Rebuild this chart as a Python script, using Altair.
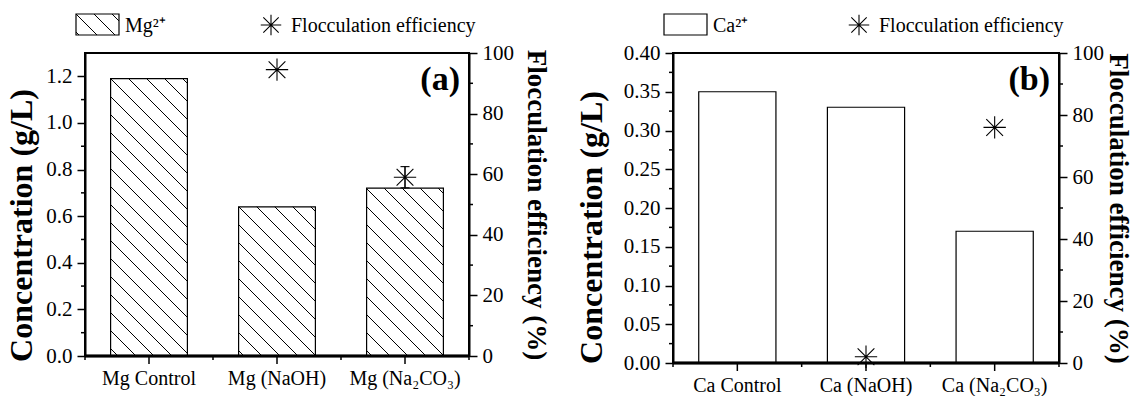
import math
import altair as alt
import pandas as pd

FONT = "Liberation Serif"

# ---------------- data: panel (a) ----------------
mg_categories = ["Mg Control", "Mg (NaOH)", "Mg (Na₂CO₃)"]
mg_concentration = [1.19, 0.64, 0.72]
mg_efficiency = [None, 94.5, 59.0]
mg_efficiency_err = [None, None, 3.5]
mg_ion_label = "Mg²⁺"
mg_conc_major = [0.0, 0.2, 0.4, 0.6, 0.8, 1.0, 1.2]
mg_conc_minor = [0.1, 0.3, 0.5, 0.7, 0.9, 1.1]

# ---------------- data: panel (b) ----------------
ca_categories = ["Ca Control", "Ca (NaOH)", "Ca (Na₂CO₃)"]
ca_concentration = [0.35, 0.33, 0.17]
ca_efficiency = [None, 2.0, 76.0]
ca_efficiency_err = [None, None, None]
ca_ion_label = "Ca²⁺"
ca_conc_major = [0.0, 0.05, 0.10, 0.15, 0.20, 0.25, 0.30, 0.35, 0.40]
ca_conc_minor = [0.025, 0.075, 0.125, 0.175, 0.225, 0.275, 0.325, 0.375]

eff_major = [0, 20, 40, 60, 80, 100]
eff_minor = [10, 30, 50, 70, 90]
eff_label = "Flocculation efficiency"
conc_title = "Concentration (g/L)"
eff_title = "Flocculation efficiency (%)"

STAR = "M-1,0L1,0M0,-1L0,1M-0.75,-0.75L0.75,0.75M-0.75,0.75L0.75,-0.75"
CAP = "M-1,0L1,0"
TICK_W = 1.5
LABEL_SIZE = 21


def hatch(w, h, spacing=18.0, lw=1.0):
    """Diagonal (\\\\) hatch as a hard-stop linear gradient, 45 deg in pixel space."""
    span = w + h
    k = span / (w * w + h * h)
    stops = [alt.GradientStop(offset=0, color="white")]
    n0 = math.ceil((-h - lw) / spacing)
    n1 = math.floor((w + lw) / spacing)
    for n in range(n0, n1 + 1):
        c = n * spacing
        a = min(max((c - lw / 2 + h) / span, 0), 1)
        b = min(max((c + lw / 2 + h) / span, 0), 1)
        stops += [alt.GradientStop(offset=a, color="white"),
                  alt.GradientStop(offset=a, color="black"),
                  alt.GradientStop(offset=b, color="black"),
                  alt.GradientStop(offset=b, color="white")]
    stops.append(alt.GradientStop(offset=1, color="white"))
    return alt.LinearGradient(gradient="linear", stops=stops,
                              x1=0, y1=1, x2=k * w, y2=1 - k * h)


def panel(cats, conc, eff, err, ion, tag, W, H, ymax, yfmt,
          conc_major, conc_minor, hatched, title_y, lpad, rpad):
    n = len(cats)
    df = pd.DataFrame({"cat": cats, "pos": list(range(n)), "conc": conc,
                       "eff": eff, "err": err})
    xscale = alt.Scale(domain=[-0.5, n - 0.5], nice=False, zero=False)
    cscale = alt.Scale(domain=[0, ymax], nice=False, zero=False)
    escale = alt.Scale(domain=[0, 100], nice=False, zero=False)

    caxis = alt.Axis(orient="left", values=conc_major, format=yfmt, tickSize=8,
                     title=conc_title, titleFontSize=32, titleY=title_y,
                     labelOverlap=False, labelPadding=5, titlePadding=lpad)
    eaxis = alt.Axis(orient="right", values=eff_major, tickSize=8,
                     title=eff_title, labelOverlap=False, labelPadding=5, titlePadding=rpad)

    base = alt.Chart(df).transform_calculate(
        x0="datum.pos - 0.3", x1="datum.pos + 0.3", zero="0")

    layers = []
    for i in range(n):
        fill = hatch(0.6 * W / n, conc[i] / ymax * H) if hatched else "white"
        layers.append(
            base.transform_filter(f"datum.pos == {i}")
            .mark_rect(fill=fill, stroke="black", strokeWidth=1.2)
            .encode(x=alt.X("x0:Q", scale=xscale, axis=None),
                    x2="x1:Q",
                    y=alt.Y("conc:Q", scale=cscale, axis=caxis if i == 0 else None),
                    y2="zero:Q")
        )
    # category ticks + labels along the bottom (through the x scale)
    layers.append(base.mark_rule(color="black", strokeWidth=TICK_W).encode(
        x=alt.X("pos:Q", scale=xscale, axis=None), y=alt.value(H), y2=alt.value(H + 8)))
    layers.append(base.mark_text(font=FONT, fontSize=20, color="black",
                                 align="center", baseline="alphabetic").encode(
        x=alt.X("pos:Q", scale=xscale, axis=None), y=alt.value(H + 29), text="cat:N"))
    # minor ticks
    xminor = pd.DataFrame({"v": [i - 0.5 for i in range(n + 1)]})
    layers.append(alt.Chart(xminor).mark_rule(color="black", strokeWidth=TICK_W).encode(
        x=alt.X("v:Q", scale=xscale, axis=None), y=alt.value(H), y2=alt.value(H + 4)))
    cminor = pd.DataFrame({"v": conc_minor})
    layers.append(alt.Chart(cminor).mark_rule(color="black", strokeWidth=TICK_W).encode(
        y=alt.Y("v:Q", scale=cscale, axis=None), x=alt.value(-4), x2=alt.value(0)))
    # heavier bottom axis line
    layers.append(base.mark_rule(color="black", strokeWidth=2.5).encode(
        x=alt.value(0), x2=alt.value(W), y=alt.value(H)))

    eff_base = base.transform_filter("isValid(datum.eff)")
    layers.append(eff_base.mark_point(shape=STAR, size=500, stroke="black", strokeWidth=1.1,
                                      opacity=1, filled=False).encode(
        x=alt.X("pos:Q", scale=xscale, axis=None),
        y=alt.Y("eff:Q", scale=escale, axis=eaxis)))
    err_base = base.transform_filter("isValid(datum.err) && datum.err > 0").transform_calculate(
        lo="datum.eff - datum.err", hi="datum.eff + datum.err")
    layers.append(err_base.mark_rule(color="black", strokeWidth=1.1).encode(
        x=alt.X("pos:Q", scale=xscale, axis=None),
        y=alt.Y("lo:Q", scale=escale, axis=None), y2="hi:Q"))
    for fld in ("lo", "hi"):
        layers.append(err_base.mark_point(shape=CAP, size=81, stroke="black", strokeWidth=1.1,
                                          opacity=1, filled=False).encode(
            x=alt.X("pos:Q", scale=xscale, axis=None),
            y=alt.Y(f"{fld}:Q", scale=escale, axis=None)))
    eminor = pd.DataFrame({"v": eff_minor})
    layers.append(alt.Chart(eminor).mark_rule(color="black", strokeWidth=TICK_W).encode(
        y=alt.Y("v:Q", scale=escale, axis=None), x=alt.value(W), x2=alt.value(W + 4)))

    leg = pd.DataFrame({"ion": [ion], "eff_label": [eff_label], "tag": [tag]})
    layers.append(alt.Chart(leg).mark_rect(fill=hatch(43, 21) if hatched else "white",
                                           stroke="black", strokeWidth=1.2).encode(
        x=alt.value(-9), x2=alt.value(34), y=alt.value(-39), y2=alt.value(-18)))
    layers.append(alt.Chart(leg).mark_text(font=FONT, fontSize=20, align="left",
                                           baseline="middle", color="black").encode(
        x=alt.value(40), y=alt.value(-27), text="ion:N"))
    layers.append(alt.Chart(leg).mark_point(shape=STAR, size=420, stroke="black", strokeWidth=1.1,
                                            opacity=1, filled=False).encode(
        x=alt.value(186), y=alt.value(-28)))
    layers.append(alt.Chart(leg).mark_text(font=FONT, fontSize=20, align="left",
                                           baseline="middle", color="black").encode(
        x=alt.value(206), y=alt.value(-27), text="eff_label:N"))
    layers.append(alt.Chart(leg).mark_text(font=FONT, fontSize=34, fontWeight="bold",
                                           align="right", baseline="middle", color="black").encode(
        x=alt.value(W - 9), y=alt.value(27), text="tag:N"))

    return alt.layer(*layers).resolve_scale(y="independent").properties(width=W, height=H)


pa = panel(mg_categories, mg_concentration, mg_efficiency, mg_efficiency_err, mg_ion_label,
           "(a)", 384, 303, 1.3, ".1f", mg_conc_major, mg_conc_minor, True, 172, 7, 8)
pb = panel(ca_categories, ca_concentration, ca_efficiency, ca_efficiency_err, ca_ion_label,
           "(b)", 386, 310, 0.40, ".2f", ca_conc_major, ca_conc_minor, False, 174, 15, 0)

chart = (
    alt.hconcat(pa, pb, spacing=23)
    .properties(padding={"left": 4, "top": 11, "right": 5, "bottom": 0})
    .configure_view(stroke="black", strokeWidth=2)
    .configure_axis(domainColor="black", domainWidth=2, tickColor="black", tickWidth=TICK_W,
                    labelFont=FONT, labelFontSize=LABEL_SIZE, labelColor="black",
                    titleFont=FONT, titleFontSize=27, titleFontWeight="bold",
                    titleColor="black", grid=False)
)

chart.save("out.html", embed_options={"renderer": "svg", "actions": False})
